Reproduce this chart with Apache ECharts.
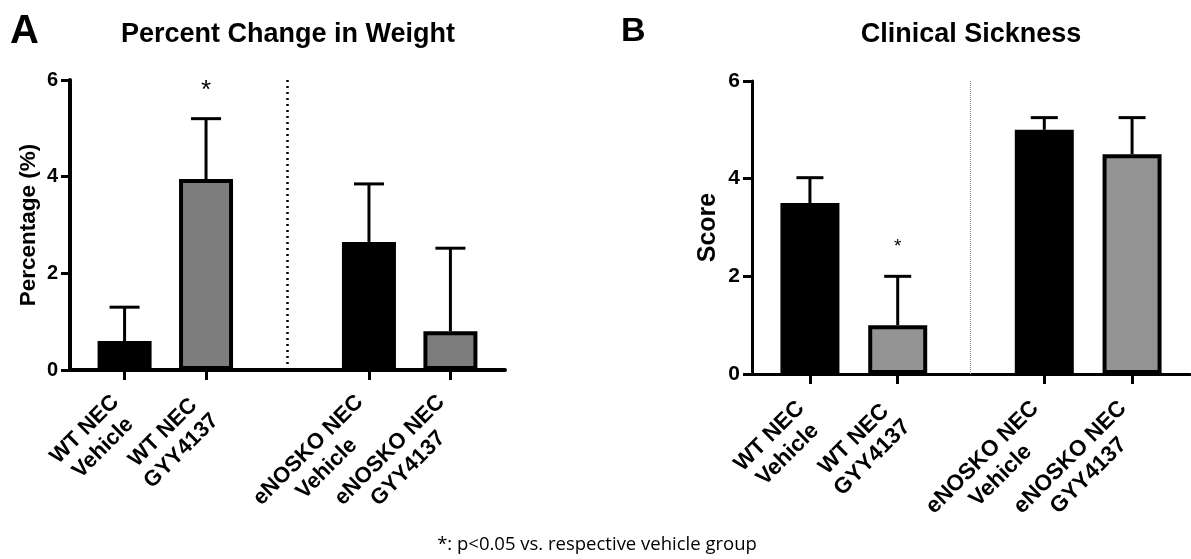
<!DOCTYPE html>
<html>
<head>
<meta charset="utf-8">
<script src="https://cdn.jsdelivr.net/npm/echarts@6/dist/echarts.min.js"></script>
<style>
html,body{margin:0;padding:0;background:#fff;}
#chart{width:1191px;height:559px;}
</style>
</head>
<body>
<div id="chart"></div>
<script>
// ---- data ----
const categories = ['WT NEC\nVehicle', 'WT NEC\nGYY4137', 'eNOSKO NEC\nVehicle', 'eNOSKO NEC\nGYY4137'];
const weightMean = [0.6, 3.95, 2.65, 0.8];
const weightSem = [0.7, 1.25, 1.2, 1.72];
const weightSig = ['', '*', '', ''];
const sicknessMean = [3.5, 1.0, 5.0, 4.5];
const sicknessSem = [0.52, 1.0, 0.25, 0.75];
const sicknessSig = ['', '*', '', ''];
const yTicks = [0, 2, 4, 6];
const titleA = 'Percent Change in Weight';
const titleB = 'Clinical Sickness';
const yNameA = 'Percentage (%)';
const yNameB = 'Score';
const footnote = '*: p<0.05 vs. respective vehicle group';

// ---- layout helpers ----
const FONT = '"Liberation Sans", Arial, sans-serif';
function positions(gap) { return categories.map((c, i) => i + (i >= 2 ? gap : 0)); }
const posA = positions(1);
const posB = positions(0.67);
const divA = (posA[1] + posA[2]) / 2;
const divB = (posB[1] + posB[2]) / 2;

function labelFor(pos) {
  return function (v) {
    let best = 0;
    pos.forEach((p, i) => { if (Math.abs(p - v) < Math.abs(pos[best] - v)) best = i; });
    return categories[best].split('\n').map(s => '{c|' + s + '}').join('\n');
  };
}

function xAxisCfg(gridIndex, pos, min, max, lw, margin, fs) {
  return {
    type: 'value', gridIndex, min, max,
    axisLine: { show: true, onZero: false, lineStyle: { color: '#000', width: lw } },
    axisTick: { show: true, customValues: pos, length: 10, lineStyle: { color: '#000', width: 3 } },
    axisLabel: {
      show: true, customValues: pos, rotate: 45, margin,
      formatter: labelFor(pos),
      rich: { c: { align: 'center', fontFamily: FONT, fontWeight: 'bold', fontSize: fs, color: '#000', lineHeight: 26 } }
    },
    splitLine: { show: false }
  };
}
function yAxisCfg(gridIndex, name, nameGap, lw, nameSize, labelSize) {
  return {
    type: 'value', gridIndex, min: 0, max: 6, interval: 2,
    name, nameLocation: 'middle', nameGap, nameRotate: 90,
    nameTextStyle: { fontFamily: FONT, fontWeight: 'bold', fontSize: nameSize, color: '#000' },
    axisLine: { show: true, onZero: false, lineStyle: { color: '#000', width: lw } },
    axisTick: { show: true, length: 9, lineStyle: { color: '#000', width: 3 } },
    axisLabel: { margin: 12, fontFamily: FONT, fontWeight: 'bold', fontSize: labelSize, color: '#000',
      customValues: yTicks },
    splitLine: { show: false }
  };
}

function barSeries(idx, pos, mean, gray, barWidth, divPos, divStyle) {
  return {
    type: 'bar', xAxisIndex: idx, yAxisIndex: idx, barWidth,
    data: mean.map((v, i) => ({
      value: [pos[i], v],
      itemStyle: { color: i % 2 === 0 ? '#000' : gray, borderColor: '#000', borderWidth: 4 }
    })),
    z: 3,
    markLine: {
      silent: true, symbol: 'none', label: { show: false },
      lineStyle: divStyle,
      data: [{ xAxis: divPos }]
    }
  };
}
function errSeries(idx, pos, mean, sem, sig, capHalf, lw, starSize, starOffset) {
  return {
    type: 'custom', xAxisIndex: idx, yAxisIndex: idx, z: 2,
    data: mean.map((v, i) => [pos[i], v, sem[i], i]),
    renderItem: function (params, api) {
      const x = api.value(0), m = api.value(1), e = api.value(2), i = api.value(3);
      const b = api.coord([x, m]);
      const t = api.coord([x, m + e]);
      const children = [
        { type: 'line', shape: { x1: b[0], y1: b[1], x2: t[0], y2: t[1] }, style: { stroke: '#000', lineWidth: lw } },
        { type: 'line', shape: { x1: t[0] - capHalf, y1: t[1], x2: t[0] + capHalf, y2: t[1] }, style: { stroke: '#000', lineWidth: lw } }
      ];
      if (sig[i]) {
        children.push({ type: 'text', x: t[0], y: t[1] - starOffset,
          style: { text: sig[i], fontFamily: FONT, fontSize: starSize, fill: '#000', align: 'center', verticalAlign: 'bottom' } });
      }
      return { type: 'group', children };
    }
  };
}

const chart = echarts.init(document.getElementById('chart'), null, { renderer: 'canvas' });
chart.setOption({
  animation: false,
  backgroundColor: '#fff',
  title: [
    { text: 'A', left: 10, top: 12, padding: 0, textStyle: { fontFamily: FONT, fontWeight: 'bold', fontSize: 40, color: '#000' } },
    { text: titleA, left: 288, top: 21, padding: 0, textAlign: 'center', textStyle: { fontFamily: FONT, fontWeight: 'bold', fontSize: 27, color: '#000' } },
    { text: 'B', left: 621, top: 15, padding: 0, textStyle: { fontFamily: FONT, fontWeight: 'bold', fontSize: 34, color: '#000' } },
    { text: titleB, left: 971, top: 21, padding: 0, textAlign: 'center', textStyle: { fontFamily: FONT, fontWeight: 'bold', fontSize: 27, color: '#000' } },
    { text: footnote, left: 597, top: 535, padding: 0, textAlign: 'center', textStyle: { fontFamily: '"Open Sans", sans-serif', fontWeight: 'normal', fontSize: 18.5, color: '#000' } }
  ],
  grid: [
    { left: 70, top: 80, width: 435, height: 290 },
    { left: 752, top: 81, width: 438, height: 293 }
  ],
  xAxis: [
    xAxisCfg(0, posA, -0.67, 4.67, 4, 38, 22),
    xAxisCfg(1, posB, -0.66, 4.33, 3, 40, 22.5)
  ],
  yAxis: [
    yAxisCfg(0, yNameA, 30, 4, 22.5, 20),
    yAxisCfg(1, yNameB, 31, 3, 25, 21)
  ],
  series: [
    errSeries(0, posA, weightMean, weightSem, weightSig, 15, 3, 26, 15),
    barSeries(0, posA, weightMean, '#7d7d7d', 54, divA, { type: [2, 4], color: '#000', width: 2.5 }),
    errSeries(1, posB, sicknessMean, sicknessSem, sicknessSig, 13.5, 3, 19, 20),
    barSeries(1, posB, sicknessMean, '#939393', 59, divB, { type: [1, 1], color: '#888', width: 1 })
  ]
});
</script>
</body>
</html>
